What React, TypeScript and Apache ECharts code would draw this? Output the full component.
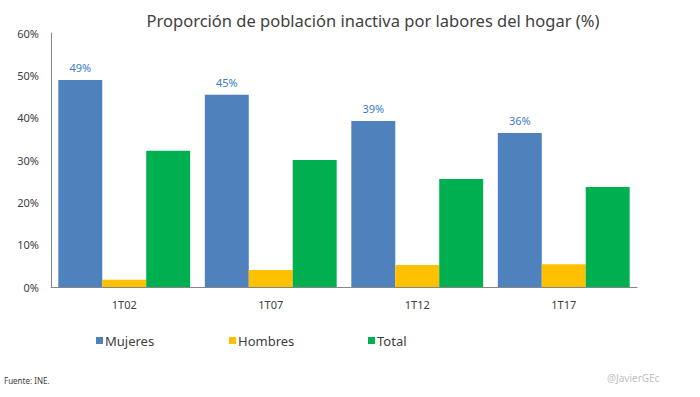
import React, { useEffect, useRef } from "react";
import * as echarts from "echarts";

const categories = ["1T02", "1T07", "1T12", "1T17"];
const mujeres = [48.9, 45.4, 39.2, 36.4];
const hombres = [1.7, 4.0, 5.2, 5.4];
const total = [32.2, 30.0, 25.5, 23.6];
const seriesNames = ["Mujeres", "Hombres", "Total"];
const yTicks = [0, 10, 20, 30, 40, 50, 60];

const FONT = "'Noto Sans', sans-serif";

export default function App() {
  const ref = useRef<HTMLDivElement>(null);
  useEffect(() => {
    if (!ref.current) return;
    const chart = echarts.init(ref.current, null, { renderer: "svg" });
    const colors = ["#4F81BD", "#FFC000", "#00B050"];
    const legendLefts = [91, 224, 363];
    chart.setOption({
      animation: false,
      backgroundColor: "#ffffff",
      color: colors,
      title: {
        text: "Proporción de población inactiva por labores del hogar (%)",
        left: 368,
        textAlign: "center",
        top: 7,
        textStyle: { fontFamily: FONT, fontSize: 16.5, fontWeight: "normal", color: "#404040" },
      },
      legend: seriesNames.map((n, i) => ({
        data: [n],
        left: legendLefts[i],
        top: 329,
        icon: "rect",
        itemWidth: 7,
        itemHeight: 7,
        itemGap: 4,
        textStyle: { fontFamily: FONT, fontSize: 13, color: "#404040", padding: [0, 0, 0, -3] },
      })),
      grid: { left: 51, right: 63, top: 33, bottom: 110, containLabel: false },
      xAxis: {
        type: "category",
        data: categories,
        axisLine: { lineStyle: { color: "#868686", width: 1 } },
        axisTick: { show: false },
        axisLabel: { fontFamily: FONT, fontSize: 11, color: "#404040", margin: 12 },
      },
      yAxis: {
        type: "value",
        min: yTicks[0],
        max: yTicks[yTicks.length - 1],
        interval: 10,
        axisLine: { show: true, lineStyle: { color: "#868686", width: 1 } },
        axisTick: { show: false },
        splitLine: { show: false },
        axisLabel: {
          fontFamily: FONT,
          fontSize: 11,
          color: "#404040",
          margin: 12,
          formatter: (v: number) => `${v}%`,
        },
      },
      series: [
        {
          name: seriesNames[0],
          type: "bar",
          data: mujeres,
          barGap: "0%",
          barCategoryGap: "10%",
          label: {
            show: true,
            position: "top",
            distance: 7,
            color: "#3A7CC4",
            fontFamily: FONT,
            fontSize: 11,
            formatter: (p: any) => `${Math.round(p.value)}%`,
          },
        },
        { name: seriesNames[1], type: "bar", data: hombres, barGap: "0%", barCategoryGap: "10%" },
        { name: seriesNames[2], type: "bar", data: total, barGap: "0%", barCategoryGap: "10%" },
      ],
      graphic: [
        {
          type: "text",
          left: 4,
          top: 376,
          style: { text: "Fuente: INE.", fontFamily: FONT, fontSize: 8, fill: "#404040" },
        },
        {
          type: "text",
          left: 607,
          top: 373,
          style: { text: "@JavierGEc", fontFamily: FONT, fontSize: 10, fill: "#BFBFBF" },
        },
      ],
    });
    return () => chart.dispose();
  }, []);
  return <div ref={ref} style={{ width: 700, height: 397, position: "fixed", left: 0, top: 0 }} />;
}
